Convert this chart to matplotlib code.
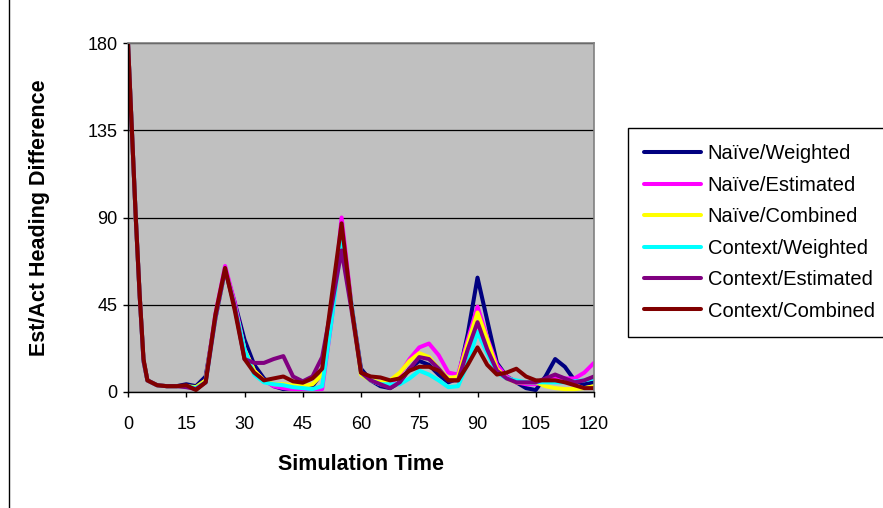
import matplotlib
matplotlib.use("Agg")
import matplotlib.pyplot as plt
from matplotlib.lines import Line2D
from matplotlib import font_manager

# Sample times: 1-unit steps through the initial drop, then every 2.5 units
times = [0, 1, 2, 3, 4] + [5 + 2.5 * i for i in range(47)]

naive_weighted = [180, 135, 90, 50, 16, 6,
                  3.5, 3, 3, 4, 3,
                  8, 38, 63, 46, 27,
                  14, 7, 3, 1.5, 2,
                  2.5, 3, 10, 45, 77,
                  45, 12, 6, 3, 2,
                  5, 12, 16, 14, 9,
                  5, 7, 30, 59, 37,
                  15, 8, 5, 2, 1,
                  8, 17, 13, 6, 4,
                  5]
naive_estimated = [180, 135, 90, 50, 16, 6,
                   3.5, 3, 3, 3, 2,
                   6, 40, 65, 46, 22,
                   11, 6, 3, 2, 1.5,
                   1.5, 1.5, 1.5, 38, 90,
                   46, 10, 6, 4, 4,
                   9, 17, 23, 25, 19,
                   10, 9, 27, 44, 28,
                   14, 8, 5, 4, 4,
                   6, 8, 7, 7, 10,
                   15]
naive_combined = [180, 135, 90, 50, 16, 6,
                  3.5, 3, 3, 3, 2.5,
                  6, 38, 63, 44, 22,
                  11, 6, 4, 4, 3.5,
                  3, 4, 9, 42, 83,
                  44, 9, 6, 5, 6,
                  10, 16, 20, 18, 12,
                  7, 8, 25, 41, 27,
                  12, 7, 5, 5, 5,
                  3, 2, 1.5, 1.5, 2,
                  3]
context_weighted = [180, 135, 90, 50, 16, 6,
                    3.5, 3, 3, 3, 2,
                    5, 38, 63, 44, 22,
                    9, 5, 4, 3.5, 2.5,
                    2, 1.5, 3, 38, 78,
                    46, 10, 6, 4, 4,
                    4, 7, 11, 9, 6,
                    2.5, 3, 15, 31, 20,
                    10, 7, 6, 5, 5,
                    5, 5, 5, 5.5, 6,
                    7]
context_estimated = [180, 135, 90, 50, 16, 6,
                     3.5, 3, 3, 2.5, 1.5,
                     5, 38, 63, 44, 17,
                     15, 15, 17, 18.5, 8,
                     5.5, 8, 18, 45, 73,
                     43, 10, 6, 4, 2,
                     5, 12, 18, 17, 12,
                     6, 6, 22, 36, 22,
                     11, 7, 5, 5, 5,
                     7, 9, 7, 5, 6,
                     8]
context_combined = [180, 135, 90, 50, 17, 6,
                    3.5, 3, 3, 3.5, 1,
                    5, 40, 64, 42, 17,
                    10, 6, 7, 8, 5.5,
                    4.8, 7, 12, 50, 87,
                    45, 10, 8, 7.5, 6,
                    7, 11, 13, 13, 11,
                    6, 6, 14, 23, 14,
                    9, 10, 12, 8, 6,
                    6, 6, 5, 3.5, 2,
                    2]

series_labels = ["Naïve/Weighted", "Naïve/Estimated", "Naïve/Combined",
                 "Context/Weighted", "Context/Estimated", "Context/Combined"]
series_colors = ["#000080", "#FF00FF", "#FFFF00", "#00FFFF", "#800080", "#800000"]
x_ticks = [0, 15, 30, 45, 60, 75, 90, 105, 120]
y_ticks = [0, 45, 90, 135, 180]

installed = {f.name for f in font_manager.fontManager.ttflist}
narrow = "Liberation Sans Narrow" if "Liberation Sans Narrow" in installed else "Liberation Sans"
plt.rcParams["font.family"] = ["Liberation Sans", "DejaVu Sans"]

W, H = 883, 508
fig = plt.figure(figsize=(W / 100, H / 100), dpi=100)
fig.patch.set_facecolor("white")

left, right, top, bottom = 128, 594, 43, 392
ax = fig.add_axes([left / W, 1 - bottom / H, (right - left) / W, (bottom - top) / H])
ax.set_facecolor("#C0C0C0")

all_series = [naive_weighted, naive_estimated, naive_combined,
              context_weighted, context_estimated, context_combined]
for values, label, color in zip(all_series, series_labels, series_colors):
    ax.plot(times, values, color=color, lw=2.9, label=label,
            solid_joinstyle="round", solid_capstyle="round")

ax.set_xlim(0, 120)
ax.set_ylim(0, 180)
ax.set_xticks(x_ticks)
ax.set_yticks(y_ticks)
ax.set_xticklabels([str(v) for v in x_ticks], fontfamily=[narrow, "DejaVu Sans"], fontsize=13)
ax.set_yticklabels([str(v) for v in y_ticks], fontfamily=[narrow, "DejaVu Sans"], fontsize=13)
ax.tick_params(axis="both", direction="out", length=3.6, width=1, color="black")
ax.tick_params(axis="x", pad=13.5)
ax.tick_params(axis="y", pad=4)

ax.set_axisbelow(True)
ax.yaxis.grid(True, color="black", lw=0.9)
for side in ("left", "bottom"):
    ax.spines[side].set_color("black")
    ax.spines[side].set_linewidth(1)
for side in ("top", "right"):
    ax.spines[side].set_color("#808080")
    ax.spines[side].set_linewidth(1.2)

ax.set_xlabel("Simulation Time", fontsize=15.5, fontweight="bold")
ax.xaxis.set_label_coords(0.5, (bottom - 465) / (bottom - top))
ax.xaxis.label.set_va("center")
ax.set_ylabel("Est/Act Heading Difference", fontsize=15.5, fontweight="bold")
ax.yaxis.set_label_coords((40 - left) / (right - left), 0.5)
ax.yaxis.label.set_va("center")

leg = fig.legend(loc="upper left", bbox_to_anchor=(628 / W, 1 - 128 / H),
                 bbox_transform=fig.transFigure, fontsize=14.5, frameon=True,
                 fancybox=False, edgecolor="black", facecolor="white", framealpha=1,
                 borderaxespad=0, borderpad=0.8, handlelength=2.8, handletextpad=0.35,
                 labelspacing=0.62)
leg.get_frame().set_linewidth(1)

# chart-area border along the left edge
fig.add_artist(Line2D([8.5 / W, 8.5 / W], [0, 1], color="black", lw=1,
                      transform=fig.transFigure))

fig.savefig("out.png", dpi=100)
